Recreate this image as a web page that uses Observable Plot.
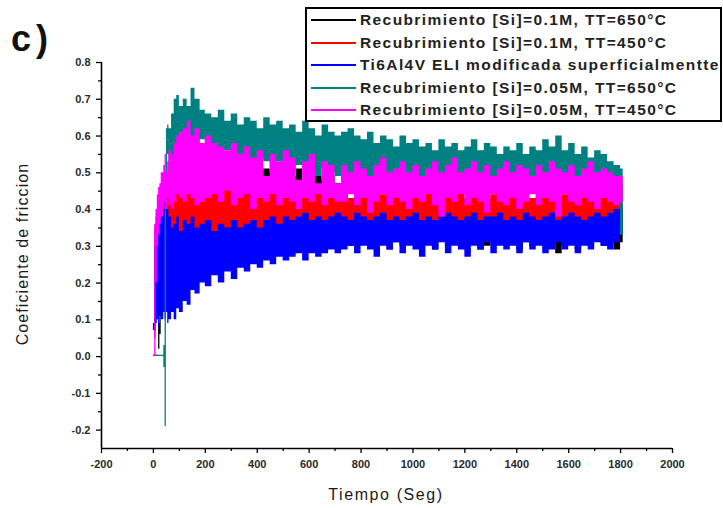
<!DOCTYPE html>
<html><head><meta charset="utf-8">
<script src="https://cdn.jsdelivr.net/npm/d3@7"></script>
<script src="https://cdn.jsdelivr.net/npm/@observablehq/plot@0.6"></script>
<style>
body{margin:0;background:#fff;}
#wrap{position:relative;width:723px;height:508px;overflow:hidden;font-family:"Liberation Sans",Arial,sans-serif;background:#fff;}
#wrap svg{position:absolute;left:0;top:0;}
#legend{position:absolute;left:305px;top:7px;width:417px;height:115px;border:2px solid #000;background:#fff;box-sizing:border-box;}
.lline{position:absolute;left:4px;width:45px;height:2px;}
.ltext{position:absolute;left:53px;font-size:15.5px;line-height:18px;font-weight:bold;color:#222;letter-spacing:1.4px;white-space:nowrap;}
#tag{position:absolute;left:11px;top:19px;font-size:36px;line-height:40px;font-weight:bold;color:#111;letter-spacing:5px;}
#ylab{position:absolute;left:23px;top:254px;transform:translate(-50%,-50%) rotate(-90deg);font-size:16px;color:#1a1a1a;white-space:nowrap;letter-spacing:1.1px;}
#xlab{position:absolute;left:386px;top:495px;transform:translate(-50%,-50%);font-size:16px;color:#1a1a1a;white-space:nowrap;letter-spacing:1.6px;}
</style>
</head><body>
<div id="wrap"></div>
<script>
// ---- data ----
const time = [0,5,10,15,20,25,30,40,45,50,55,60,70,80,90,100,115,130,145,160,180,200,
 225,250,275,300,325,350,375,400,425,450,475,500,525,550,575,600,625,650,675,700,
 725,750,775,800,825,850,875,900,925,950,975,1000,1025,1050,1075,1100,1125,1150,1175,1200,
 1225,1250,1275,1300,1325,1350,1375,1400,1425,1450,1475,1500,1525,1550,1575,1600,1625,1650,1675,1700,
 1725,1750,1775,1800,1810];

const blackLo = [0,0,0,0,0.02,0.06,0.26,0.30,0.32,0.30,0.32,0.30,0.34,0.33,0.35,0.34,0.33,0.35,0.36,0.35,0.36,0.36,
 0.35,0.36,0.34,0.36,0.35,0.37,0.35,0.36,0.34,0.36,0.35,0.37,0.36,0.35,0.36,0.34,0.36,0.35,0.34,0.33,
 0.31,0.30,0.32,0.31,0.30,0.32,0.31,0.29,0.31,0.30,0.32,0.31,0.30,0.31,0.29,0.32,0.30,0.31,0.30,0.32,
 0.31,0.29,0.30,0.31,0.32,0.30,0.31,0.29,0.31,0.30,0.32,0.30,0.31,0.28,0.30,0.31,0.29,0.31,0.30,0.32,
 0.30,0.31,0.29,0.31,0.31];
const blackHi = [0.004,0.004,0.004,0.004,0.09,0.35,0.42,0.45,0.50,0.46,0.48,0.52,0.55,0.50,0.55,0.50,0.52,0.53,0.57,0.56,0.52,0.51,
 0.53,0.50,0.52,0.49,0.51,0.50,0.52,0.49,0.51,0.50,0.48,0.50,0.49,0.51,0.48,0.50,0.49,0.48,0.49,0.47,
 0.44,0.42,0.41,0.40,0.42,0.40,0.41,0.39,0.41,0.40,0.39,0.41,0.40,0.42,0.39,0.40,0.41,0.39,0.40,0.41,
 0.40,0.39,0.41,0.40,0.39,0.41,0.40,0.42,0.39,0.40,0.41,0.39,0.40,0.41,0.39,0.40,0.41,0.40,0.39,0.41,
 0.40,0.39,0.41,0.40,0.40];

const redLo = [0,0.05,0.30,0.32,0.30,0.33,0.32,0.35,0.30,0.28,0.30,0.30,0.30,0.28,0.29,0.31,0.28,0.30,0.30,0.32,0.30,0.31,
 0.32,0.30,0.33,0.32,0.31,0.33,0.32,0.34,0.33,0.32,0.34,0.33,0.32,0.34,0.33,0.35,0.33,0.34,0.33,0.34,
 0.34,0.35,0.33,0.34,0.35,0.34,0.33,0.35,0.34,0.36,0.34,0.33,0.35,0.34,0.35,0.33,0.34,0.35,0.34,0.33,
 0.35,0.34,0.36,0.34,0.33,0.35,0.34,0.35,0.33,0.34,0.35,0.34,0.33,0.35,0.34,0.36,0.34,0.35,0.34,0.35,
 0.34,0.35,0.36,0.37,0.38];
const redHi = [0,0.35,0.38,0.40,0.42,0.44,0.45,0.47,0.44,0.42,0.45,0.47,0.43,0.44,0.46,0.48,0.45,0.47,0.44,0.49,0.46,0.45,
 0.48,0.46,0.47,0.45,0.46,0.44,0.47,0.45,0.44,0.46,0.45,0.47,0.44,0.46,0.45,0.44,0.46,0.45,0.47,0.45,
 0.44,0.43,0.45,0.44,0.46,0.43,0.44,0.45,0.43,0.44,0.46,0.44,0.43,0.45,0.44,0.43,0.45,0.44,0.46,0.43,
 0.44,0.45,0.43,0.44,0.46,0.44,0.43,0.45,0.44,0.43,0.45,0.44,0.46,0.43,0.44,0.45,0.43,0.44,0.46,0.45,
 0.44,0.45,0.46,0.47,0.47];

const blueLo = [0.07,0.07,0.09,0.10,0.08,0.11,0.10,0.12,0.10,0.12,0.09,0.10,0.12,0.10,0.13,0.12,0.15,0.14,0.18,0.17,0.20,0.19,
 0.22,0.20,0.23,0.21,0.24,0.23,0.25,0.24,0.26,0.25,0.27,0.26,0.27,0.28,0.26,0.28,0.27,0.28,0.29,0.28,
 0.29,0.30,0.28,0.30,0.29,0.27,0.30,0.29,0.31,0.28,0.30,0.29,0.27,0.30,0.29,0.31,0.28,0.30,0.29,0.27,
 0.30,0.29,0.31,0.28,0.30,0.29,0.30,0.28,0.31,0.29,0.30,0.28,0.29,0.31,0.29,0.30,0.28,0.30,0.29,0.31,
 0.30,0.29,0.31,0.33,0.33];
const blueHi = [0.09,0.30,0.33,0.38,0.40,0.38,0.43,0.44,0.41,0.45,0.40,0.38,0.35,0.36,0.38,0.34,0.37,0.36,0.38,0.35,0.36,0.37,
 0.34,0.36,0.35,0.37,0.35,0.36,0.37,0.35,0.37,0.38,0.36,0.38,0.37,0.38,0.39,0.37,0.38,0.37,0.38,0.39,
 0.38,0.37,0.39,0.38,0.37,0.38,0.39,0.37,0.38,0.37,0.38,0.39,0.37,0.38,0.37,0.38,0.39,0.38,0.37,0.38,
 0.39,0.37,0.38,0.38,0.39,0.37,0.38,0.37,0.39,0.38,0.37,0.38,0.39,0.37,0.38,0.39,0.38,0.37,0.38,0.39,
 0.38,0.39,0.40,0.41,0.41];

const tealLo = [0,0,0,0,0,0,0,-0.03,-0.19,0.40,0.55,0.48,0.50,0.55,0.52,0.58,0.56,0.60,0.58,0.57,0.59,0.56,
 0.55,0.54,0.56,0.53,0.55,0.54,0.52,0.54,0.53,0.51,0.53,0.52,0.50,0.52,0.51,0.50,0.49,0.51,0.50,0.49,
 0.48,0.47,0.49,0.48,0.46,0.48,0.47,0.49,0.47,0.48,0.46,0.47,0.48,0.46,0.47,0.45,0.47,0.46,0.48,0.46,
 0.47,0.45,0.46,0.48,0.46,0.47,0.45,0.46,0.47,0.45,0.46,0.47,0.45,0.46,0.47,0.46,0.45,0.47,0.46,0.47,
 0.46,0.47,0.45,0.33,0.33];
const tealHi = [0.004,0.004,0.004,0.004,0.004,0.004,0.004,0.03,0.45,0.62,0.63,0.62,0.66,0.70,0.71,0.68,0.70,0.68,0.73,0.70,0.67,0.66,
 0.65,0.67,0.64,0.66,0.63,0.65,0.64,0.62,0.65,0.63,0.64,0.62,0.63,0.61,0.64,0.62,0.60,0.63,0.61,0.60,
 0.61,0.62,0.60,0.59,0.61,0.58,0.60,0.59,0.57,0.60,0.58,0.59,0.57,0.58,0.56,0.59,0.57,0.58,0.56,0.57,
 0.59,0.56,0.58,0.57,0.55,0.57,0.56,0.58,0.55,0.57,0.56,0.59,0.57,0.60,0.56,0.58,0.55,0.57,0.54,0.56,
 0.55,0.53,0.52,0.51,0.50];

const magentaLo = [0,0,0.20,0.30,0.33,0.36,0.38,0.40,0.42,0.40,0.43,0.41,0.40,0.42,0.44,0.43,0.42,0.44,0.43,0.41,0.42,0.43,
 0.44,0.42,0.45,0.41,0.43,0.44,0.40,0.43,0.42,0.44,0.41,0.43,0.42,0.40,0.43,0.42,0.44,0.41,0.43,0.42,
 0.42,0.44,0.41,0.43,0.39,0.42,0.44,0.41,0.43,0.42,0.40,0.43,0.42,0.44,0.41,0.38,0.43,0.42,0.44,0.41,
 0.43,0.42,0.39,0.44,0.42,0.41,0.43,0.40,0.42,0.44,0.41,0.43,0.42,0.38,0.44,0.42,0.41,0.43,0.42,0.40,
 0.43,0.42,0.41,0.42,0.42];
const magentaHi = [0.004,0.36,0.40,0.44,0.46,0.47,0.50,0.52,0.55,0.50,0.53,0.56,0.55,0.58,0.60,0.61,0.62,0.64,0.60,0.62,0.58,0.60,
 0.58,0.57,0.56,0.58,0.55,0.57,0.54,0.56,0.49,0.55,0.53,0.56,0.54,0.48,0.53,0.55,0.47,0.53,0.52,0.47,
 0.52,0.50,0.53,0.51,0.49,0.52,0.54,0.50,0.51,0.53,0.50,0.52,0.49,0.51,0.53,0.50,0.52,0.54,0.50,0.51,
 0.53,0.50,0.52,0.49,0.51,0.53,0.50,0.52,0.51,0.49,0.52,0.50,0.53,0.51,0.50,0.52,0.49,0.51,0.53,0.50,
 0.51,0.50,0.49,0.49,0.49];

const seriesNames = [
  "Recubrimiento [Si]=0.1M, TT=650°C",
  "Recubrimiento [Si]=0.1M, TT=450°C",
  "Ti6Al4V ELI modificada superficialmentte",
  "Recubrimiento [Si]=0.05M, TT=650°C",
  "Recubrimiento [Si]=0.05M, TT=450°C"
];
const seriesColors = ["#000000", "#ff0000", "#0000ff", "#008080", "#ff00ff"];
const seriesLo = [blackLo, redLo, blueLo, tealLo, magentaLo];
const seriesHi = [blackHi, redHi, blueHi, tealHi, magentaHi];

const xTicks = [-200,0,200,400,600,800,1000,1200,1400,1600,1800,2000];
const xMinor = [-100,100,300,500,700,900,1100,1300,1500,1700,1900];
const yTicks = [-0.2,-0.1,0.0,0.1,0.2,0.3,0.4,0.5,0.6,0.7,0.8];
const yMinor = [-0.15,-0.05,0.05,0.15,0.25,0.35,0.45,0.55,0.65,0.75];
const xLabel = "Tiempo (Seg)";
const yLabel = "Coeficiente de friccion";
const panelTag = "c)";

// ---- chart ----
const areaMarks = seriesNames.map((name, k) =>
  Plot.areaY(time.map((t, i) => ({t, lo: seriesLo[k][i], hi: seriesHi[k][i]})),
    {x: "t", y1: "lo", y2: "hi", fill: seriesColors[k], curve: "step-after"})
);

const chart = Plot.plot({
  width: 723, height: 508,
  marginLeft: 101, marginRight: 51, marginTop: 62, marginBottom: 60,
  style: {fontFamily: "'Liberation Sans', Arial, sans-serif", background: "transparent", overflow: "visible"},
  x: {domain: [-200, 2000]},
  y: {domain: [-0.25, 0.8]},
  marks: [
    ...areaMarks,
    Plot.axisX(xTicks, {tickSize: 5, tickPadding: 7, tickFormat: d => String(d), label: null, fontSize: 11, fontWeight: "bold", fill: "#2a2a2a", strokeWidth: 1.3}),
    Plot.axisX(xMinor, {tickSize: 3, tickFormat: () => "", label: null, strokeWidth: 1.3}),
    Plot.axisY(yTicks, {tickSize: 5, tickPadding: 6, tickFormat: d => d.toFixed(1), label: null, fontSize: 11, fontWeight: "bold", fill: "#2a2a2a", strokeWidth: 1.3}),
    Plot.axisY(yMinor, {tickSize: 3, tickFormat: () => "", label: null, strokeWidth: 1.3}),
    Plot.ruleX([-200], {stroke: "#000", strokeWidth: 1.6}),
    Plot.ruleY([-0.25], {stroke: "#000", strokeWidth: 1.6})
  ]
});

const wrap = document.getElementById("wrap");
wrap.appendChild(chart);

const tag = document.createElement("div");
tag.id = "tag"; tag.textContent = panelTag; wrap.appendChild(tag);
const yl = document.createElement("div");
yl.id = "ylab"; yl.textContent = yLabel; wrap.appendChild(yl);
const xl = document.createElement("div");
xl.id = "xlab"; xl.textContent = xLabel; wrap.appendChild(xl);

const legend = document.createElement("div");
legend.id = "legend";
const centers = [11, 34, 56, 79, 101];
seriesNames.forEach((name, k) => {
  const ln = document.createElement("div");
  ln.className = "lline"; ln.style.top = (centers[k] - 1) + "px"; ln.style.background = seriesColors[k];
  legend.appendChild(ln);
  const tx = document.createElement("div");
  tx.className = "ltext"; tx.style.top = (centers[k] - 9) + "px"; tx.textContent = name;
  legend.appendChild(tx);
});
wrap.appendChild(legend);
</script>
</body></html>
